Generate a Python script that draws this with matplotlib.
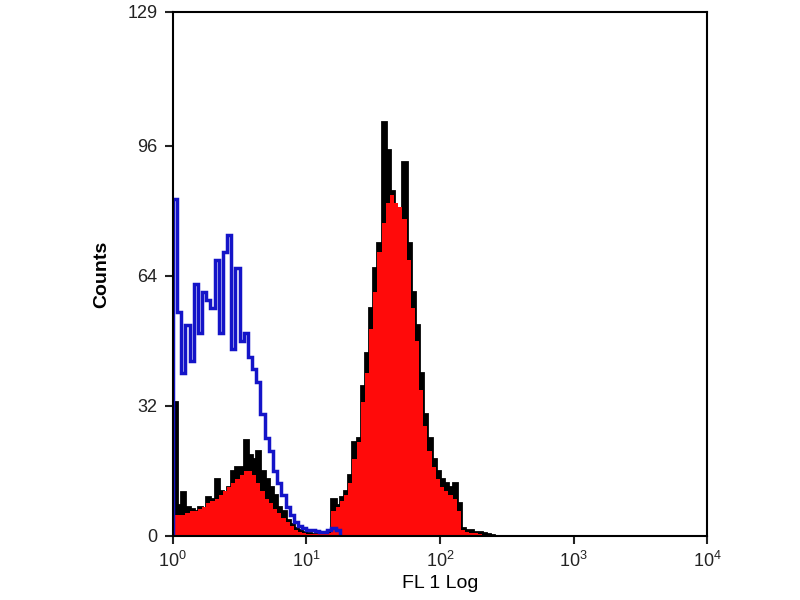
import numpy as np
import matplotlib
matplotlib.use("Agg")
import matplotlib.pyplot as plt

# channel width: 1/32 decade, starting at 10^0
CH_PER_DECADE = 32

blue_counts = [83, 55, 40, 52, 43, 62, 50, 60, 58, 56,
               68, 50, 70, 74, 46, 66, 48, 50, 44, 41,
               38, 30, 24, 21, 16, 13, 10, 7, 5, 3.5,
               2.5, 2, 1.5, 1.5, 1.2, 1, 1, 1.5, 2, 1.5]

black_counts = [33, 7.6, 10.8, 7, 6.5, 6, 7, 6.5, 9.6, 9,
                14, 11, 10.5, 12, 16, 17, 17, 23.6, 20, 19,
                21, 16, 14, 12, 10, 7, 6, 4, 3, 2,
                1.5, 1, 0.8, 0.5, 0.5, 0.5, 0.8, 1, 9, 7.5,
                9.6, 11, 15, 23, 24, 37, 45, 56, 66, 72,
                102, 95, 85, 79, 80, 92, 72, 60, 52, 40,
                30, 24, 19, 16, 14, 13, 12, 13, 8, 2,
                1.5, 1.5, 1, 1, 0.7, 0.5, 0.3]

red_counts = [5, 5, 5, 5.5, 6, 6, 6.5, 7, 8, 8.5,
              9, 10, 11, 12, 13, 14, 15, 16, 16, 15,
              13, 11, 9, 8, 6.5, 5.5, 4.5, 3.5, 2.5, 1.5,
              1, 0.7, 0.5, 0.4, 0.4, 0.4, 0.5, 0.6, 6, 7,
              8.5, 10, 13, 19, 23, 33, 40, 51, 60, 70,
              77, 82, 84, 82, 81, 78, 68, 56, 48, 36,
              27, 21, 17, 14, 12, 11, 10, 9, 6, 1.5,
              1, 0.8, 0.6, 0.4, 0.3, 0.2]

y_ticks = [0, 32, 64, 96, 129]
x_ticks = [1, 10, 100, 1000, 10000]


def edges_for(values):
    return 10 ** (np.arange(len(values) + 1) / CH_PER_DECADE)


fig = plt.figure(figsize=(8, 6), dpi=100)
ax = fig.add_axes([0.216, 0.107, 0.668, 0.873])

ax.stairs(black_counts, edges_for(black_counts), fill=True, color="black")
ax.stairs(black_counts, edges_for(black_counts), color="black", lw=2)
ax.stairs(red_counts, edges_for(red_counts), fill=True, color="#ff0a0a")
ax.stairs(blue_counts, edges_for(blue_counts), color="#1414c8", lw=2.5)

ax.set_xscale("log")
ax.set_xlim(1, 10000)
ax.set_ylim(0, 129)
ax.set_xticks(x_ticks)
ax.minorticks_off()
ax.set_yticks(y_ticks)
ax.set_yticklabels([str(t) for t in y_ticks])

for s in ax.spines.values():
    s.set_linewidth(1.5)
    s.set_color("black")
ax.tick_params(axis="both", direction="out", length=6, width=1.5,
               labelsize=13, colors="#222222", pad=5)
ax.set_xlabel("FL 1 Log", fontsize=14, family="Liberation Sans", labelpad=3)
ax.set_ylabel("Counts", fontsize=14, family="Liberation Sans",
              fontweight="bold", labelpad=12)
for lab in ax.get_yticklabels() + ax.get_xticklabels():
    lab.set_family("Liberation Sans")

fig.savefig("out.png", dpi=100, facecolor="white")
